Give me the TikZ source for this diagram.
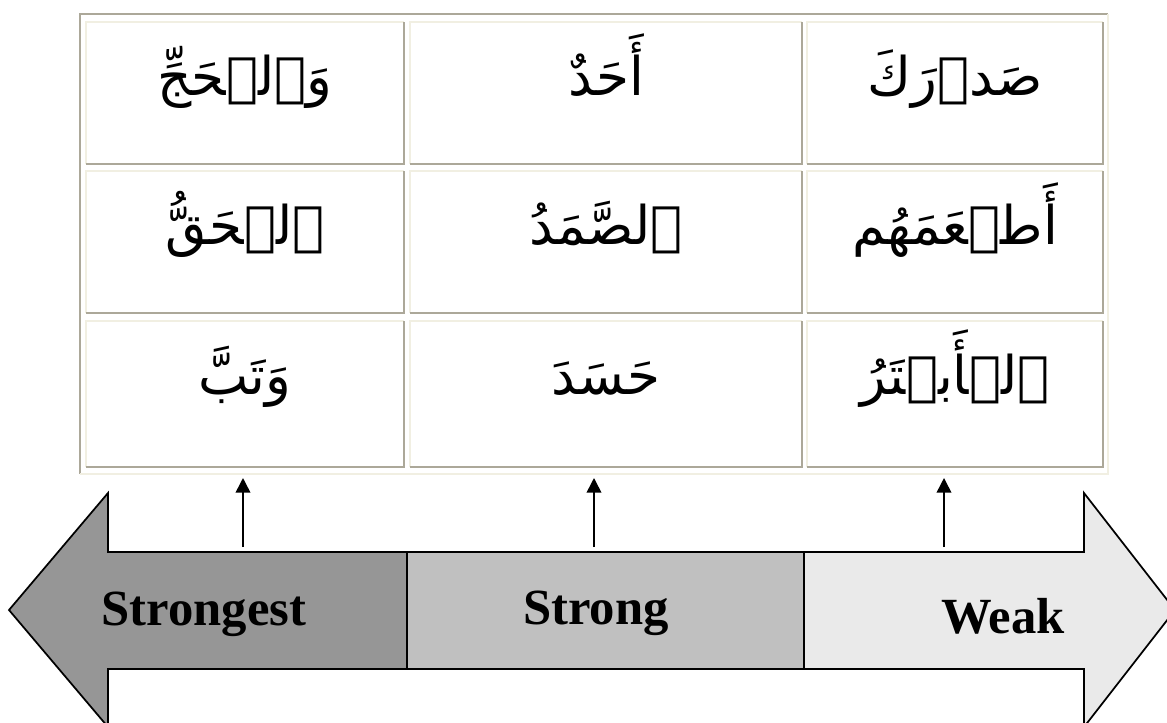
\documentclass[tikz,border=0pt]{standalone}
\usepackage{fontspec}
\setmainfont{Liberation Serif}
\newfontfamily\arabicfont[Script=Arabic]{DejaVu Sans}
\TeXXeTstate=1
\usetikzlibrary{arrows.meta}

\definecolor{tabdark}{HTML}{ACA899}
\definecolor{tablight}{HTML}{F1EFE2}
\definecolor{strongestgray}{HTML}{969696}
\definecolor{stronggray}{HTML}{C0C0C0}
\definecolor{weakgray}{HTML}{EAEAEA}

\tikzset{
  word/.style={anchor=base, inner sep=0pt, font=\arabicfont\fontsize{40}{46}\selectfont},
  level/.style={anchor=base, inner sep=0pt, font=\bfseries\fontsize{38}{42}\selectfont},
  bevel/.style={line width=1.5pt},
  band/.style={draw=black, line width=1.3pt},
  up/.style={line width=1.2pt, -{Triangle[width=11pt,length=11pt]}}
}

\begin{document}
\begin{tikzpicture}[x=0.75pt, y=-0.75pt]
\useasboundingbox (0,0) rectangle (1167,722);

%tabella
\begin{scope}[bevel]
\draw[tabdark] (80,474) |- (1108,14);
\draw[tablight] (1108,14) |- (80,474);
%prima riga
\draw[tablight] (86,164) |- (404,22);
\draw[tabdark] (404,22) |- (86,164);
\draw[tablight] (410,164) |- (802,22);
\draw[tabdark] (802,22) |- (410,164);
\draw[tablight] (807,164) |- (1103,22);
\draw[tabdark] (1103,22) |- (807,164);
%seconda riga
\draw[tablight] (86,313) |- (404,171);
\draw[tabdark] (404,171) |- (86,313);
\draw[tablight] (410,313) |- (802,171);
\draw[tabdark] (802,171) |- (410,313);
\draw[tablight] (807,313) |- (1103,171);
\draw[tabdark] (1103,171) |- (807,313);
%terza riga
\draw[tablight] (86,467) |- (404,321);
\draw[tabdark] (404,321) |- (86,467);
\draw[tablight] (410,467) |- (802,321);
\draw[tabdark] (802,321) |- (410,467);
\draw[tablight] (807,467) |- (1103,321);
\draw[tabdark] (1103,321) |- (807,467);
\end{scope}

%parole
\node[word] (w11) at (245,95) {\beginR وَٱلۡحَجِّ\endR};
\node[word] (w12) at (606,95) {\beginR أَحَدٌ\endR};
\node[word] (w13) at (955,95) {\beginR صَدۡرَكَ\endR};
\node[word] (w21) at (245,244) {\beginR ٱلۡحَقُّ\endR};
\node[word] (w22) at (606,244) {\beginR ٱلصَّمَدُ\endR};
\node[word] (w23) at (955,244) {\beginR أَطۡعَمَهُم\endR};
\node[word] (w31) at (245,394) {\beginR وَتَبَّ\endR};
\node[word] (w32) at (606,394) {\beginR حَسَدَ\endR};
\node[word] (w33) at (955,394) {\beginR ٱلۡأَبۡتَرُ\endR};

%frecce
\draw[band, fill=strongestgray] (9,610) -- (108,493) -- (108,552) -- (407,552)
  -- (407,669) -- (108,669) -- (108,727) -- cycle;
\draw[band, fill=stronggray] (407,552) rectangle (804,669);
\draw[band, fill=weakgray] (804,552) -- (1084,552) -- (1084,493) -- (1175,610)
  -- (1084,727) -- (1084,669) -- (804,669) -- cycle;

\node[level] (strongest) at (204,625) {Strongest};
\node[level] (strong) at (596,624) {Strong};
\node[level] (weak) at (1003,633) {Weak};

%collegamenti
\coordinate (a1) at (243,547);
\coordinate (b1) at (243,478);
\coordinate (a2) at (594,547);
\coordinate (b2) at (594,478);
\coordinate (a3) at (944,547);
\coordinate (b3) at (944,478);
\draw[up] (a1) -- (b1);
\draw[up] (a2) -- (b2);
\draw[up] (a3) -- (b3);

\end{tikzpicture}
\end{document}
